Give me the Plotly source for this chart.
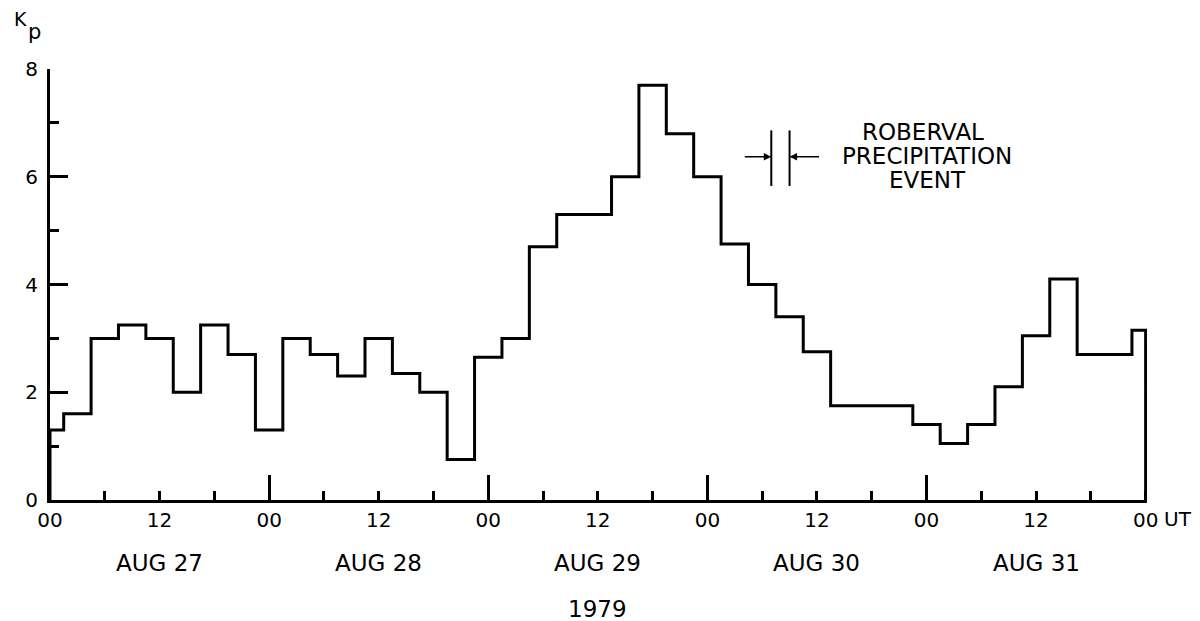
import plotly.graph_objects as go

# 3-hourly Kp values, Aug 27 00 UT to Sep 1 00 UT (hours since Aug 27 00 UT)
hours = list(range(0, 121, 3))
kp = [1.3, 1.6, 3.0, 3.25, 3.0, 2.0, 3.25, 2.7,
      1.3, 3.0, 2.7, 2.3, 3.0, 2.35, 2.0, 0.75,
      2.65, 3.0, 4.7, 5.3, 5.3, 6.0, 7.7, 6.8,
      6.0, 4.75, 4.0, 3.4, 2.75, 1.75, 1.75, 1.75,
      1.4, 1.05, 1.4, 2.1, 3.05, 4.1, 2.7, 2.7, 3.15]

tick_hours = list(range(0, 121, 12))
tick_text = ["00", "12", "00", "12", "00", "12", "00", "12", "00", "12", "00"]
day_boundaries = [24, 48, 72, 96]
day_centers = [12, 36, 60, 84, 108]
day_labels = ["AUG 27", "AUG 28", "AUG 29", "AUG 30", "AUG 31"]
year_label = "1979"

# Roberval precipitation event (hours since Aug 27 00 UT)
event_start = 79.0
event_end = 81.0
event_y_low = 5.83
event_y_high = 6.86
event_arrow_y = 6.37
event_lines = ["ROBERVAL", "PRECIPITATION", "EVENT"]
event_text_x = [95.6, 96.1, 96.1]
event_text_y = [6.83, 6.39, 5.94]

FONT = "DejaVu Sans"
x_line = [hours[0]] + hours + [hours[-1]]
y_line = [0] + kp + [0]

fig = go.Figure()
fig.add_trace(go.Scatter(
    x=x_line, y=y_line, mode="lines",
    line=dict(color="black", width=3, shape="hvh"),
    showlegend=False, hoverinfo="skip",
))
# invisible trace for the secondary x axis (day boundary ticks)
fig.add_trace(go.Scatter(x=[0, 120], y=[0, 0], mode="lines", xaxis="x2",
                         line=dict(width=0), showlegend=False, hoverinfo="skip"))

xr = [0, 120.15]
fig.update_layout(
    width=1200, height=621,
    margin=dict(l=50, r=53, t=69, b=121),
    paper_bgcolor="white", plot_bgcolor="white",
    font=dict(family=FONT, color="black", size=20),
    xaxis=dict(
        range=xr, showgrid=False, zeroline=False,
        showline=True, linecolor="black", linewidth=3,
        tickmode="array", tickvals=tick_hours, ticktext=tick_text,
        ticks="inside", ticklen=9, tickwidth=2.5, tickcolor="black",
        tickfont=dict(size=20, family=FONT),
        minor=dict(tickvals=[h for h in range(6, 120, 12)], ticks="inside",
                   ticklen=9, tickwidth=2.5, tickcolor="black", showgrid=False),
    ),
    xaxis2=dict(
        range=xr, overlaying="x", anchor="y", side="bottom",
        showgrid=False, zeroline=False, showline=False,
        tickmode="array", tickvals=day_boundaries, showticklabels=False,
        ticks="inside", ticklen=25, tickwidth=2.5, tickcolor="black",
    ),
    yaxis=dict(
        range=[0, 8], showgrid=False, zeroline=False,
        showline=True, linecolor="black", linewidth=3,
        tickmode="array", tickvals=[0, 2, 4, 6, 8],
        ticks="inside", ticklen=18, tickwidth=2.5, tickcolor="black",
        tickfont=dict(size=20, family=FONT), ticklabelstandoff=5,
        minor=dict(tickvals=[1, 3, 5, 7], ticks="inside", ticklen=9,
                   tickwidth=2.5, tickcolor="black", showgrid=False),
    ),
)

annotations = []
for xc, lab in zip(day_centers, day_labels):
    annotations.append(dict(x=xc, y=-0.147, xref="x", yref="paper", text=lab,
                            showarrow=False, xanchor="center", yanchor="middle",
                            font=dict(size=23, family=FONT)))
annotations.append(dict(x=60, y=-0.254, xref="x", yref="paper", text=year_label,
                        showarrow=False, xanchor="center", yanchor="middle",
                        font=dict(size=23, family=FONT)))
annotations.append(dict(x=120, y=-0.045, xref="x", yref="paper", text="UT",
                        showarrow=False, xanchor="left", yanchor="middle",
                        xshift=16, font=dict(size=20, family=FONT)))
annotations.append(dict(x=-0.035, y=1.117, xref="paper", yref="paper",
                        text="K", showarrow=False,
                        xanchor="left", yanchor="middle",
                        font=dict(size=19, family=FONT)))
annotations.append(dict(x=-0.0215, y=1.085, xref="paper", yref="paper",
                        text="p", showarrow=False,
                        xanchor="left", yanchor="middle",
                        font=dict(size=21, family=FONT)))
for xt, yt, line in zip(event_text_x, event_text_y, event_lines):
    annotations.append(dict(x=xt, y=yt, xref="x", yref="y", text=line,
                            showarrow=False, xanchor="center", yanchor="middle",
                            font=dict(size=23, family=FONT)))
annotations.append(dict(x=event_start, y=event_arrow_y, xref="x", yref="y",
                        ax=-28, ay=0, text="", showarrow=True, arrowhead=2,
                        arrowsize=1, arrowwidth=1.5, arrowcolor="black"))
annotations.append(dict(x=event_end, y=event_arrow_y, xref="x", yref="y",
                        ax=31, ay=0, text="", showarrow=True, arrowhead=2,
                        arrowsize=1, arrowwidth=1.5, arrowcolor="black"))
fig.update_layout(annotations=annotations)

for xe in (event_start, event_end):
    fig.add_shape(type="line", xref="x", yref="y", x0=xe, x1=xe,
                  y0=event_y_low, y1=event_y_high,
                  line=dict(color="black", width=2))

fig.write_html("out.html")
